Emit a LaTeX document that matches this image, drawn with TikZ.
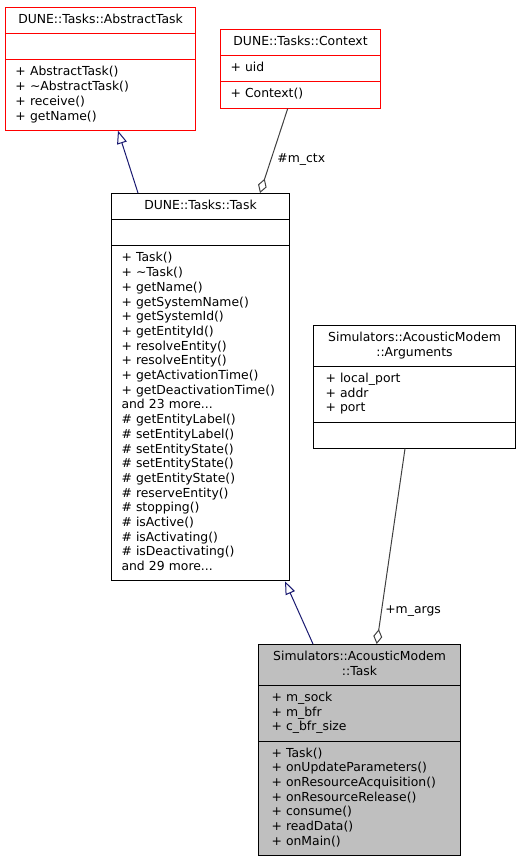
\documentclass[tikz,border=0pt]{standalone}
\usepackage{fontspec}
\setmainfont{DejaVu Sans}
\usepackage{xcolor}
\usepackage{tikz}
\usetikzlibrary{shapes.multipart, arrows.meta}

\definecolor{inheritblue}{HTML}{191970}
\definecolor{membergray}{HTML}{404040}
\definecolor{classgray}{HTML}{BFBFBF}

% centred class name, one or two lines
\newcommand\umltitle[1]{\parbox[t]{\hsize}{\centering\strut#1\strut}}

\begin{document}
\begin{tikzpicture}[
    x=1pt, y=-1pt,
    classbox/.style={
        rectangle split,
        rectangle split parts=3,
        draw=black,
        line width=1pt,
        anchor=north west,
        inner xsep=10pt,
        inner ysep=5.25pt,
        align=left,
        font=\fontsize{12.4}{14.7}\selectfont
    },
    refbox/.style={
        classbox,
        draw=red
    },
    inherit/.style={
        draw=inheritblue,
        line width=1pt,
        -{Triangle[open, length=13pt, width=10pt]}
    },
    member/.style={
        draw=membergray,
        line width=1pt,
        -{Diamond[open, length=15pt, width=9pt]}
    },
    memberlabel/.style={
        font=\fontsize{12.4}{14.7}\selectfont,
        anchor=west
    }
]
\useasboundingbox (0,0) rectangle (520,859);

% Nodes
\node [refbox, text width=170pt] (abstract) at (5,7)
    {\umltitle{DUNE::Tasks::AbstractTask}
     \nodepart{two}\strut
     \nodepart{three}\strut + AbstractTask()\\ + \textasciitilde AbstractTask()\\ + receive()\\ + getName()\strut};
\node [refbox, text width=140pt] (context) at (220,29)
    {\umltitle{DUNE::Tasks::Context}
     \nodepart{two}\strut + uid\strut
     \nodepart{three}\strut + Context()\strut};
\node [classbox, text width=158pt] (task) at (111,193)
    {\umltitle{DUNE::Tasks::Task}
     \nodepart{two}\strut
     \nodepart{three}\strut + Task()\\ + \textasciitilde Task()\\ + getName()\\ + getSystemName()\\
     + getSystemId()\\ + getEntityId()\\ + resolveEntity()\\ + resolveEntity()\\
     + getActivationTime()\\ + getDeactivationTime()\\ and 23 more...\\
     \# getEntityLabel()\\ \# setEntityLabel()\\ \# setEntityState()\\ \# setEntityState()\\
     \# getEntityState()\\ \# reserveEntity()\\ \# stopping()\\ \# isActive()\\
     \# isActivating()\\ \# isDeactivating()\\ and 29 more...\strut};
\node [classbox, inner xsep=12pt, text width=178pt] (args) at (313,325)
    {\umltitle{Simulators::AcousticModem\\::Arguments}
     \nodepart{two}\strut + local\_port\\ + addr\\ + port\strut
     \nodepart{three}\strut};
\node [classbox, fill=classgray, inner xsep=13pt, text width=176pt] (modem) at (258,644)
    {\umltitle{Simulators::AcousticModem\\::Task}
     \nodepart{two}\strut + m\_sock\\ + m\_bfr\\ + c\_bfr\_size\strut
     \nodepart{three}\strut + Task()\\ + onUpdateParameters()\\ + onResourceAcquisition()\\
     + onResourceRelease()\\ + consume()\\ + readData()\\ + onMain()\strut};

% Edges
\path [inherit] ([xshift=27pt]task.north west) -- ([xshift=113pt]abstract.south west);
\path [member] ([xshift=67.7pt]context.south west) --
    node [memberlabel, pos=0.6, xshift=2.5pt] {\#m\_ctx} ([xshift=149pt]task.north west);
\path [inherit] ([xshift=55pt]modem.north west) -- ([xshift=174pt]task.south west);
\path [member] ([xshift=92pt]args.south west) --
    node [memberlabel, pos=0.83] {+m\_args} ([xshift=118.7pt]modem.north west);

\end{tikzpicture}
\end{document}
